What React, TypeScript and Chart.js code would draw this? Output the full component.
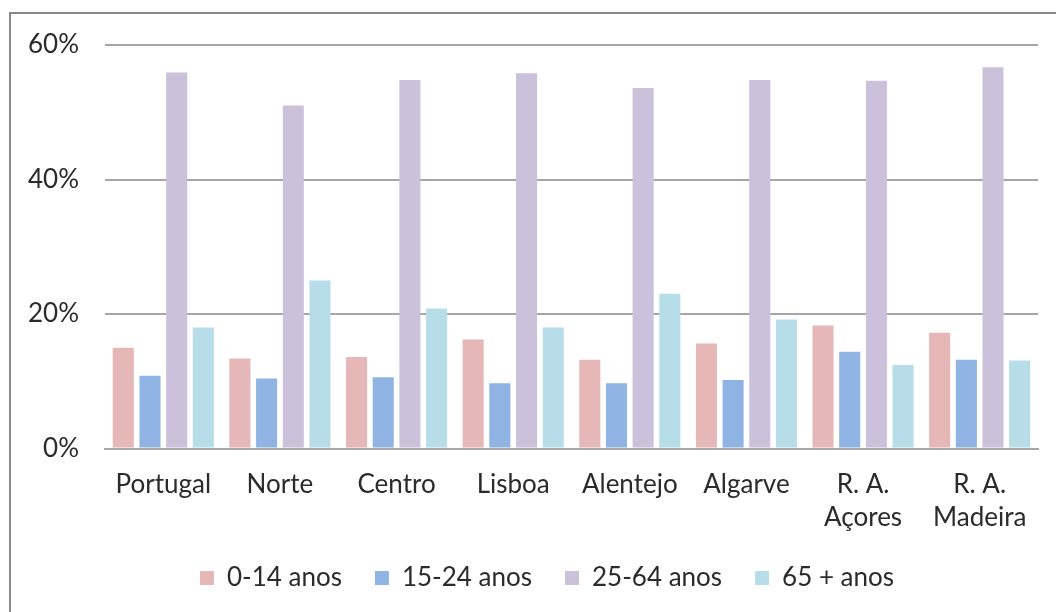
import React, { useEffect, useRef } from "react";
import { Chart, registerables } from "chart.js";

Chart.register(...registerables);

const categories: (string | string[])[] = [
  "Portugal",
  "Norte",
  "Centro",
  "Lisboa",
  "Alentejo",
  "Algarve",
  ["R. A.", "Açores"],
  ["R. A.", "Madeira"],
];

const seriesNames = ["0-14 anos", "15-24 anos", "25-64 anos", "65 + anos"];

const age0to14 = [15.0, 13.4, 13.6, 16.2, 13.2, 15.6, 18.3, 17.2];
const age15to24 = [10.8, 10.4, 10.6, 9.7, 9.7, 10.2, 14.4, 13.2];
const age25to64 = [55.9, 51.0, 54.8, 55.8, 53.6, 54.8, 54.7, 56.7];
const age65plus = [18.0, 25.0, 20.8, 18.0, 23.0, 19.2, 12.4, 13.1];

const yTicks = [0, 20, 40, 60];

const colors = ["#E5B8B7", "#8FB4E3", "#CBC1DB", "#B7DEE8"];

const legendShift = {
  id: "legendShift",
  afterLayout(chart: any) {
    const lg = chart.legend;
    if (lg) {
      lg.left += 28;
      lg.right += 28;
    }
  },
};

export default function App() {
  const canvasRef = useRef<HTMLCanvasElement | null>(null);

  useEffect(() => {
    if (!canvasRef.current) return;
    document.body.style.overflow = "hidden";
    const seriesData = [age0to14, age15to24, age25to64, age65plus];
    const fontFamily = "Lato, 'Open Sans', sans-serif";
    const chart = new Chart(canvasRef.current, {
      type: "bar",
      data: {
        labels: categories,
        datasets: seriesNames.map((name, i) => ({
          label: name,
          data: seriesData[i],
          backgroundColor: colors[i],
          borderWidth: 0,
          categoryPercentage: 0.915,
          barPercentage: 0.79,
        })),
      },
      plugins: [legendShift],
      options: {
        animation: false,
        responsive: false,
        maintainAspectRatio: false,
        layout: { padding: { left: 0, right: 18, top: 45, bottom: 11 } },
        plugins: {
          tooltip: { enabled: false },
          legend: {
            position: "bottom",
            labels: {
              boxWidth: 14,
              boxHeight: 14,
              padding: 33,
              color: "#2b2b2b",
              font: { family: fontFamily, size: 26 },
            },
          },
        },
        scales: {
          x: {
            grid: { display: false, drawTicks: false },
            border: { display: true, color: "#A6A6A6", width: 2 },
            ticks: {
              color: "#2b2b2b",
              padding: 20,
              maxRotation: 0,
              autoSkip: false,
              font: { family: fontFamily, size: 26, lineHeight: 1.27 },
            },
            afterFit: (scale: any) => {
              scale.height = 83.5;
            },
          },
          y: {
            min: 0,
            max: 60,
            afterBuildTicks: (scale: any) => {
              scale.ticks = yTicks.map((v) => ({ value: v }));
            },
            grid: { color: "#A6A6A6", lineWidth: 2, drawTicks: false },
            border: { display: false },
            ticks: {
              color: "#2b2b2b",
              padding: 26,
              font: { family: fontFamily, size: 26 },
              callback: (v: any) => `${v}%`,
            },
            afterFit: (scale: any) => {
              scale.width = 105;
            },
          },
        },
      },
    });
    return () => chart.destroy();
  }, []);

  return (
    <div
      style={{
        position: "fixed",
        left: 0,
        top: 0,
        width: 1056,
        height: 612,
        background: "#ffffff",
        overflow: "hidden",
      }}
    >
      <div
        style={{
          position: "absolute",
          left: 9,
          top: 12,
          width: 1100,
          height: 700,
          borderLeft: "2px solid #898989",
          borderTop: "2px solid #898989",
        }}
      />
      <canvas
        ref={canvasRef}
        width={1056}
        height={612}
        style={{ position: "absolute", left: 0, top: 0, width: 1056, height: 612 }}
      />
    </div>
  );
}
